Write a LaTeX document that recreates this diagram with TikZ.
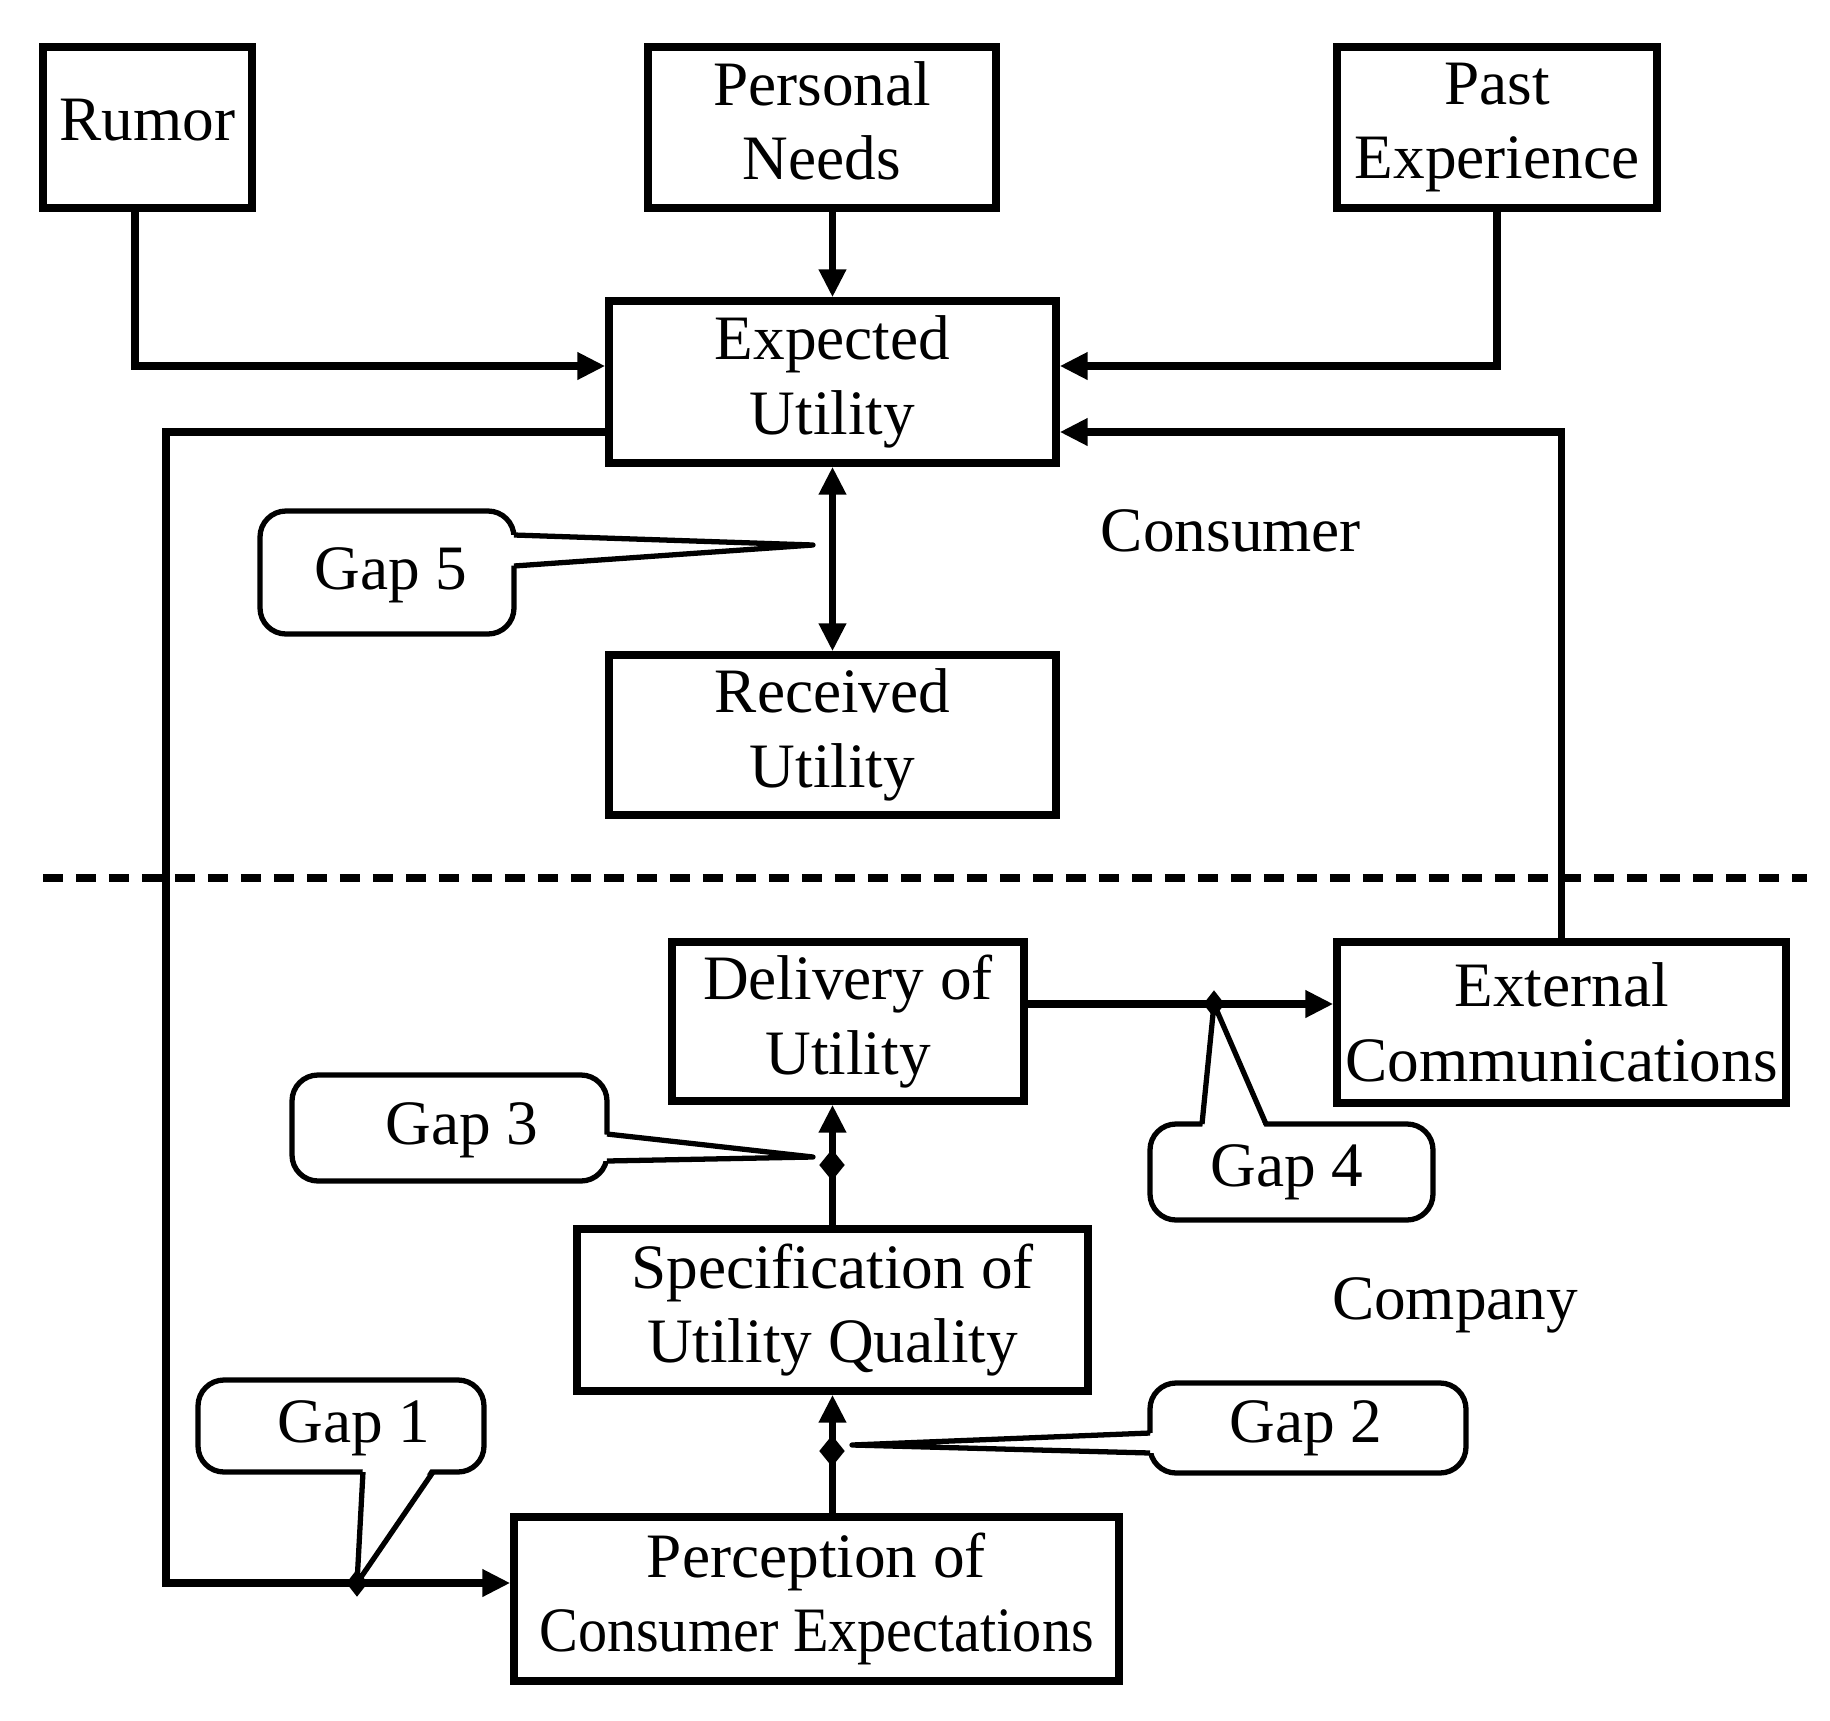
\documentclass[tikz,border=0pt]{standalone}
\usepackage{fontspec}
\setmainfont{Liberation Serif}
\usetikzlibrary{arrows.meta,calc,shapes.geometric}
\begin{document}
\begin{tikzpicture}[x=0.1mm,y=-0.1mm,
  box/.style={draw,line width=2.1pt,inner sep=0.5mm,align=center,font=\fontsize{18}{21.2}\selectfont},
  conn/.style={line width=2pt},
  tip/.style={-{Triangle[length=2.8mm,width=2.6mm]}},
  dtip/.style={{Triangle[length=2.8mm,width=2.6mm]}-{Triangle[length=2.8mm,width=2.6mm]}},
  gapbox/.style={draw,line width=1.5pt,fill=white,rounded corners=2.6mm},
  gapline/.style={line width=1.5pt,line join=round},
  lbl/.style={font=\fontsize{18}{21.2}\selectfont,inner sep=0},
  junct/.style={diamond,fill=black,inner sep=0,minimum width=2.2mm,minimum height=2.8mm},
  bigjunct/.style={diamond,fill=black,inner sep=0,minimum width=2.6mm,minimum height=3.2mm}]
\useasboundingbox (0,0) rectangle (1830,1721);

% boxes
\node[box,minimum width=20.9mm,minimum height=16.1mm] (rumor) at (147.5,127.5) {\raisebox{1.5mm}{Rumor}};
\node[box,minimum width=34.8mm,minimum height=16.1mm] (personal) at (822,127.5) {\raisebox{0.9mm}{\begin{tabular}{@{}c@{}}Personal\\Needs\end{tabular}}};
\node[box,minimum width=32mm,minimum height=16.1mm] (past) at (1497,127.5) {Past\\Experience};
\node[box,minimum width=44.7mm,minimum height=16.2mm] (expected) at (832.5,382) {Expected\\Utility};
\node[box,minimum width=44.7mm,minimum height=16mm] (received) at (832.5,735) {Received\\Utility};
\node[box,minimum width=35.2mm,minimum height=15.9mm] (delivery) at (848,1021.5) {Delivery of\\Utility};
\node[box,minimum width=44.9mm,minimum height=16.1mm] (external) at (1561.5,1022.5) {External\\Communications};
\node[box,minimum width=51.1mm,minimum height=16.2mm] (spec) at (832.5,1310) {Specification of\\Utility Quality};
\node[box,minimum width=60.5mm,minimum height=16.4mm] (perception) at (816.5,1599) {Perception of\\\scalebox{0.92}[1]{Consumer Expectations}};

% labels
\node[lbl] (consumer) at (1231,531) {Consumer};
\node[lbl] (company) at (1455,1305) {Company};

% dashed separator
\coordinate (dashL) at (43,878);
\coordinate (dashR) at (1807,878);
\draw[line width=2.5pt,dash pattern=on 2mm off 1.3mm] (dashL) -- (dashR);

% connectors
\coordinate (rumorBend) at (135,366);
\draw[conn,tip] (rumor.south -| rumorBend) -- (rumorBend) -- (rumorBend -| expected.west);
\draw[conn,tip] (expected.north |- personal.south) -- (expected.north);
\coordinate (pastBend) at (1497,366);
\draw[conn,tip] (past.south) -- (pastBend) -- (pastBend -| expected.east);
\coordinate (loopTop) at (166,432);
\coordinate (loopBot) at (166,1583);
\draw[conn,tip] (loopTop -| expected.west) -- (loopTop) -- (loopBot) -- (loopBot -| perception.west);
\coordinate (extBend) at (1562,432);
\draw[conn,tip] (external.north) -- (external.north |- extBend) -- (extBend -| expected.east);
\draw[conn,dtip] (expected.south) -- (received.north);
\coordinate (d4) at (1214,1004);
\draw[conn,tip] (d4 -| delivery.east) -- (d4 -| external.west);
\draw[conn,tip] (spec.north) -- (spec.north |- delivery.south);
\draw[conn,tip] (spec.south |- perception.north) -- (spec.south);

% junction marks
\node[junct] (m1) at (357,1583) {};
\node[bigjunct] (m2) at (832,1451) {};
\node[bigjunct] (m3) at (832,1165) {};
\node[junct] (m4) at (1214,1004) {};

% Gap 5 callout
\draw[gapbox] (260,511) rectangle (514,634);
\fill[white] (507,535) -- (813,545) -- (507,566) -- cycle;
\draw[gapline] (514,535) -- (813,545) -- (514,566);
\node[lbl] (g5) at (391,575) {Gap 5};

% Gap 3 callout
\draw[gapbox] (292,1075) rectangle (607,1181);
\fill[white] (600,1134) -- (813,1157) -- (600,1161) -- cycle;
\draw[gapline] (607,1134) -- (813,1157) -- (607,1161);
\node[lbl] (g3) at (462,1130) {Gap 3};

% Gap 4 callout
\draw[gapbox] (1150,1124) rectangle (1433,1220);
\fill[white] (1202,1131) -- (1214,1004) -- (1266,1131) -- cycle;
\draw[gapline] (1202,1124) -- (1214,1004) -- (1266,1124);
\node[lbl] (g4) at (1287,1172) {Gap 4};

% Gap 1 callout
\draw[gapbox] (198,1380) rectangle (484,1472);
\fill[white] (363,1465) -- (357,1583) -- (433,1465) -- cycle;
\draw[gapline] (363,1472) -- (357,1583) -- (433,1472);
\node[lbl] (g1) at (354,1428) {Gap 1};

% Gap 2 callout
\draw[gapbox] (1150,1383) rectangle (1466,1473);
\fill[white] (1157,1433) -- (852,1445) -- (1157,1453) -- cycle;
\draw[gapline] (1150,1433) -- (852,1445) -- (1150,1453);
\node[lbl] (g2) at (1306,1428) {Gap 2};
\end{tikzpicture}
\end{document}
